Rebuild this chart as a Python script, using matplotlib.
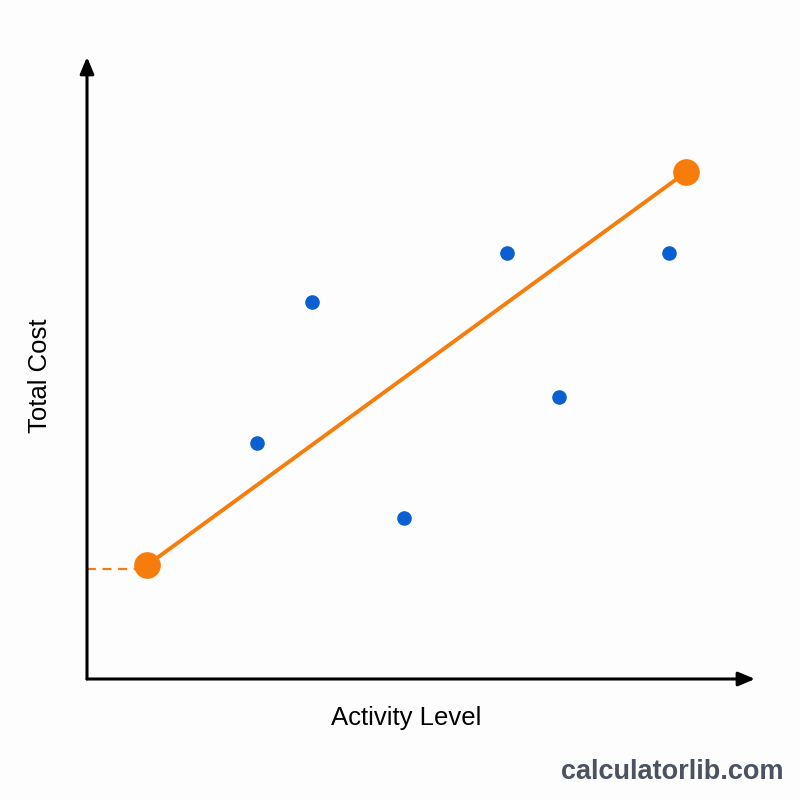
import matplotlib.pyplot as plt

plt.rcParams['font.family'] = ['Liberation Sans', 'DejaVu Sans']

# data (activity level vs total cost)
blue_x = [25.4, 33.7, 47.5, 62.9, 70.7, 87.1]
blue_y = [37.9, 60.6, 25.9, 68.5, 45.3, 68.5]
line_x = [9.0, 89.7]
line_y = [18.3, 81.5]
fixed_cost = 17.7

fig = plt.figure(figsize=(8, 8), dpi=100)
fig.patch.set_facecolor('#fdfdfd')
ax = fig.add_axes([87/800, 121/800, 668/800, 622/800])
ax.set_xlim(0, 100)
ax.set_ylim(0, 100)
ax.axis('off')

# axes with arrows
arrow = dict(arrowstyle='-|>,head_length=1.0,head_width=0.42', lw=2.2, color='black',
             shrinkA=0, shrinkB=0)
ax.annotate('', xy=(100, 0), xytext=(0, 0), arrowprops=arrow, annotation_clip=False)
ax.annotate('', xy=(0, 100), xytext=(0, 0), arrowprops=arrow, annotation_clip=False)

orange = '#f67d0c'
ax.plot([0, line_x[0] - 1.5], [fixed_cost, fixed_cost], ls=(0, (4, 3)), color=orange, lw=1.6)
ax.plot(line_x, line_y, color=orange, lw=2.8, zorder=3)
ax.scatter(line_x, line_y, s=330, color=orange, zorder=4)
ax.scatter(blue_x, blue_y, s=90, color='#0b5fd0', zorder=4)

fig.text(406/800, 1 - 718/800, 'Activity Level', ha='center', va='center', fontsize=18.5)
fig.text(40/800, 1 - 376/800, 'Total Cost', ha='center', va='center', fontsize=18.5, rotation=90)
fig.text(783/800, 1 - 772/800, 'calculatorlib.com', ha='right', va='center', fontsize=19.5,
         fontweight='bold', color='#4b5262')

fig.savefig('out.png', dpi=100, facecolor=fig.get_facecolor())
